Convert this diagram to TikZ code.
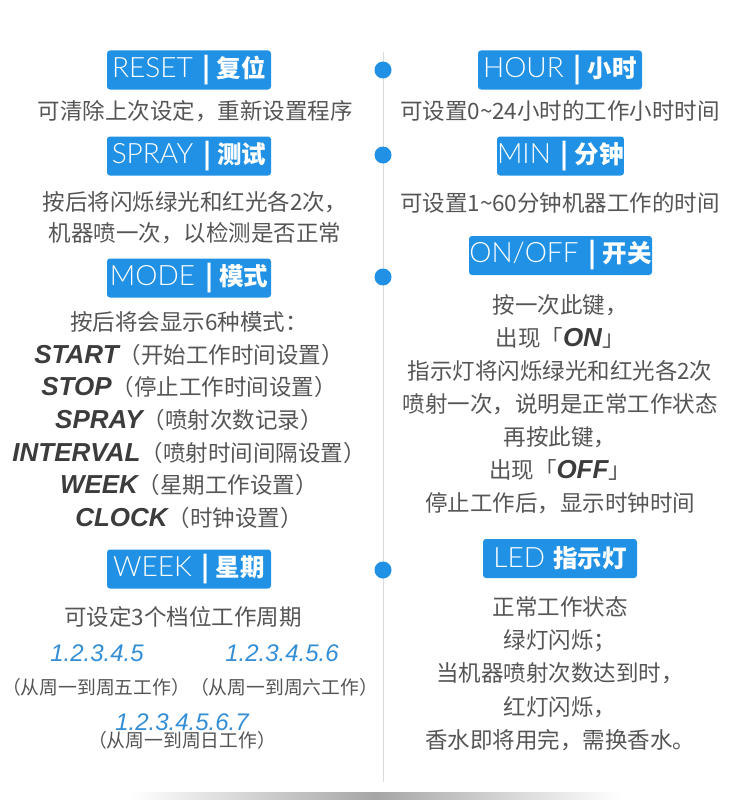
\documentclass[tikz,border=0pt]{standalone}
\usepackage{fontspec}
\setmainfont{Noto Sans CJK SC}
\newfontfamily\thinfont{Lato Light}
\newfontfamily\arialfont{Liberation Sans}
\definecolor{tagblue}{RGB}{33,145,229}
\definecolor{bodygray}{RGB}{85,85,85}
\definecolor{keygray}{RGB}{60,60,60}
\definecolor{numblue}{RGB}{52,142,214}
\definecolor{spinegray}{RGB}{218,218,218}
\newcommand{\btn}[2]{{\thinfont\fontsize{28}{28}\selectfont #1}\hspace{10pt}{\bfseries\fontsize{26}{26}\selectfont|}\hspace{6pt}{\bfseries\fontsize{24.5}{24.5}\selectfont #2}}
\newcommand{\mkey}[1]{{\arialfont\bfseries\itshape\fontsize{26}{26}\selectfont\color{keygray}#1}}

\begin{document}
\begin{tikzpicture}[x=1pt, y=-1pt]
\tikzstyle{tag} = [fill=tagblue, text=white, rounded corners=3pt, minimum height=39, inner sep=0]
\tikzstyle{dot} = [circle, fill=tagblue, minimum size=17, inner sep=0]
\tikzstyle{body} = [text=bodygray, align=center, inner sep=0, font=\fontsize{22.5}{33}\selectfont]
\tikzstyle{num} = [text=numblue, inner sep=0, font=\arialfont\itshape\fontsize{24}{24}\selectfont]
\tikzstyle{small} = [text=bodygray, inner sep=0, font=\fontsize{18.8}{20}\selectfont]
\tikzstyle{spine} = [draw=spinegray, line width=1]
\useasboundingbox[fill=white] (0,0) rectangle (751,800);
\shade[left color=white, right color=white, middle color=black!35] (130,792) rectangle (621,799);
\coordinate (top) at (383,52);
\coordinate (bot) at (383,782);
\draw[spine] (top) -- (bot);
\node[dot] (d1) at (383,70) {};
\node[dot] (d2) at (383,155) {};
\node[dot] (d3) at (383,277) {};
\node[dot] (d4) at (383,570) {};

\node[tag, minimum width=164] (reset) at (189,70) {\btn{RESET}{复位}};
\node[body] (resettxt) at (195,111) {可清除上次设定，重新设置程序};
\node[tag, minimum width=164] (spray) at (189,156) {\btn{SPRAY}{测试}};
\node[body, font=\fontsize{22.5}{31}\selectfont] (spraytxt) at (195,218) {按后将闪烁绿光和红光各2次，\\机器喷一次，以检测是否正常};
\node[tag, minimum width=164] (mode) at (189,278) {\btn{MODE}{模式}};
\node[body, font=\fontsize{22.5}{32.7}\selectfont] (modetxt) at (189,420) {按后将会显示6种模式：\\
  \mkey{START}（开始工作时间设置）\\
  \mkey{STOP}（停止工作时间设置）\\
  \mkey{SPRAY}（喷射次数记录）\\
  \mkey{INTERVAL}（喷射时间间隔设置）\\
  \mkey{WEEK}（星期工作设置）\\
  \mkey{CLOCK}（时钟设置）};
\node[tag, minimum width=164] (week) at (189,569) {\btn{WEEK}{星期}};
\node[body] (weektxt) at (183,617) {可设定3个档位工作周期};
\node[num] (w5) at (97,653) {1.2.3.4.5};
\node[num] (w6) at (282,653) {1.2.3.4.5.6};
\node[small] (w56txt) at (190,687) {（从周一到周五工作）（从周一到周六工作）};
\node[num] (w7) at (182,722) {1.2.3.4.5.6.7};
\node[small] (w7txt) at (182,740) {（从周一到周日工作）};

\node[tag, minimum width=164] (hour) at (560,70) {\btn{HOUR}{小时}};
\node[body] (hourtxt) at (560,111) {可设置0\textasciitilde24小时的工作小时时间};
\node[tag, minimum width=125] (min) at (560.5,156) {\btn{MIN}{分钟}};
\node[body] (mintxt) at (560,203) {可设置1\textasciitilde60分钟机器工作的时间};
\node[tag, minimum width=183] (onoff) at (560.5,255.5) {\btn{ON/OFF}{开关}};
\node[body] (onofftxt) at (560,404) {按一次此键，\\
  出现「\mkey{ON}」\\
  指示灯将闪烁绿光和红光各2次\\
  喷射一次，说明是正常工作状态\\
  再按此键，\\
  出现「\mkey{OFF}」\\
  停止工作后，显示时钟时间};
\node[tag, minimum width=154] (led) at (560,558.5) {{\thinfont\fontsize{28}{28}\selectfont LED}\hspace{8pt}{\bfseries\fontsize{24.5}{24.5}\selectfont 指示灯}};
\node[body, font=\fontsize{22.5}{33.25}\selectfont] (ledtxt) at (560,673.5) {正常工作状态\\绿灯闪烁；\\当机器喷射次数达到时，\\红灯闪烁，\\香水即将用完，需换香水。};
\end{tikzpicture}
\end{document}
